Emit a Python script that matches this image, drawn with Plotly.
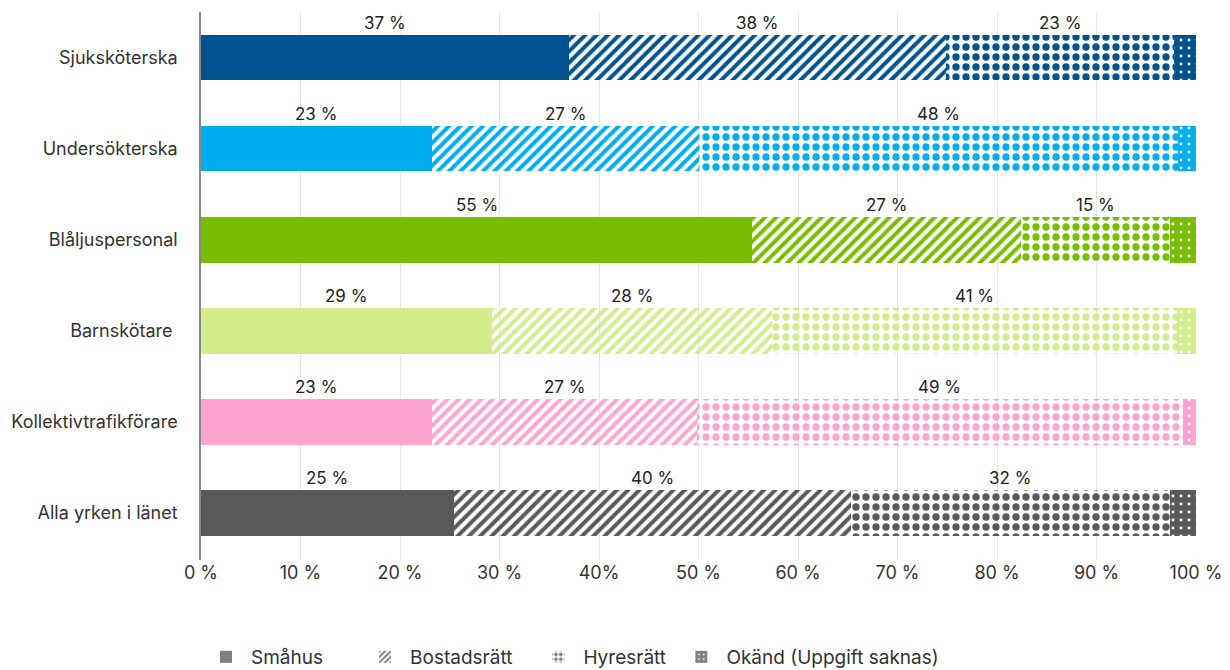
import plotly.graph_objects as go

categories = ["Sjuksköterska", "Undersökterska", "Blåljuspersonal", "Barnskötare ",
              "Kollektivtrafikförare", "Alla yrken i länet"]
series_names = ["Småhus", "Bostadsrätt", "Hyresrätt", "Okänd (Uppgift saknas)"]
smahus = [37.0, 23.2, 55.4, 29.2, 23.2, 25.4]
bostadsratt = [37.9, 26.8, 27.0, 28.2, 26.6, 39.9]
hyresratt = [22.9, 48.2, 15.0, 40.7, 48.9, 32.1]
okand = [2.2, 1.8, 2.6, 1.9, 1.3, 2.6]
colors = ["#00538f", "#00aeef", "#78be00", "#d3ec8c", "#ffa3d0", "#595959"]
tick_vals = [0, 10, 20, 30, 40, 50, 60, 70, 80, 90, 100]
tick_text = ["0 %", "10 %", "20 %", "30 %", "40%", "50 %", "60 %", "70 %", "80 %", "90 %", "100 %"]

series = [smahus, bostadsratt, hyresratt, okand]
patterns = [
    dict(shape=""),
    dict(shape="/", size=8, solidity=0.5, fillmode="replace"),
    dict(shape=".", size=10, solidity=0.42, fillmode="replace"),
]

fig = go.Figure()
for name, vals, pat in zip(series_names[:3], series[:3], patterns):
    fig.add_trace(go.Bar(
        x=vals, y=categories, orientation="h", name=name, showlegend=False,
        marker=dict(color=colors, pattern=pat, line=dict(width=0)),
        width=0.5, hoverinfo="x+y",
    ))
# Okänd: one trace per category so the white dot pattern can sit on the category colour
for cat, val, col in zip(categories, okand, colors):
    fig.add_trace(go.Bar(
        x=[val], y=[cat], orientation="h", name=series_names[3], showlegend=False,
        marker=dict(color=col, line=dict(width=0),
                    pattern=dict(shape=".", fgcolor="#ffffff", fgopacity=1,
                                 size=8, solidity=0.1, fillmode="overlay")),
        width=0.5, hoverinfo="x+y",
    ))

legend_names = ["Småhus" + "\u00a0" * 6, "Bostadsrätt" + "\u00a0" * 3,
                "Hyresrätt" + "\u00a0", "Okänd (Uppgift saknas)"]
legend_patterns = [
    dict(shape=""),
    dict(shape="/", size=5, solidity=0.5, fillmode="replace"),
    dict(shape=".", size=6, solidity=0.45, fillmode="replace"),
    dict(shape=".", fgcolor="#ffffff", fgopacity=1, size=6, solidity=0.12, fillmode="overlay"),
]
for name, pat in zip(legend_names, legend_patterns):
    fig.add_trace(go.Bar(
        x=[None], y=[None], orientation="h", name=name, showlegend=True,
        marker=dict(color="#808080", pattern=pat, line=dict(width=0)),
    ))

# value labels above each segment (except Okänd)
for i, cat in enumerate(categories):
    start = 0.0
    for s in range(3):
        v = series[s][i]
        fig.add_annotation(
            x=start + v / 2, y=cat, text=f"{v:.0f} %", showarrow=False,
            yshift=35, font=dict(size=17, color="#222222", family="Inter"),
        )
        start += v

fig.update_layout(
    width=1230, height=670,
    barmode="stack",
    plot_bgcolor="white", paper_bgcolor="white",
    margin=dict(l=193, r=42, t=4, b=118, autoexpand=False),
    font=dict(family="Inter", size=18, color="#333333"),
    xaxis=dict(range=[0, 100], tickvals=tick_vals, ticktext=tick_text,
               showgrid=True, gridcolor="#e6e6e6", gridwidth=1, zeroline=False,
               showline=False, ticks="", tickfont=dict(size=18, color="#333333"),
               automargin=False),
    yaxis=dict(categoryorder="array", categoryarray=categories, autorange="reversed",
               showline=True, linecolor="#888888", linewidth=1.5, ticks="",
               ticklabelstandoff=18, tickfont=dict(size=18, color="#333333"),
               showgrid=False, automargin=False),
    legend=dict(orientation="h", x=0.0, xanchor="left", y=-0.177, yanchor="middle",
                font=dict(size=19, color="#333333"), itemwidth=40,
                traceorder="normal"),
    bargap=0.5,
)

fig.write_html("out.html")
